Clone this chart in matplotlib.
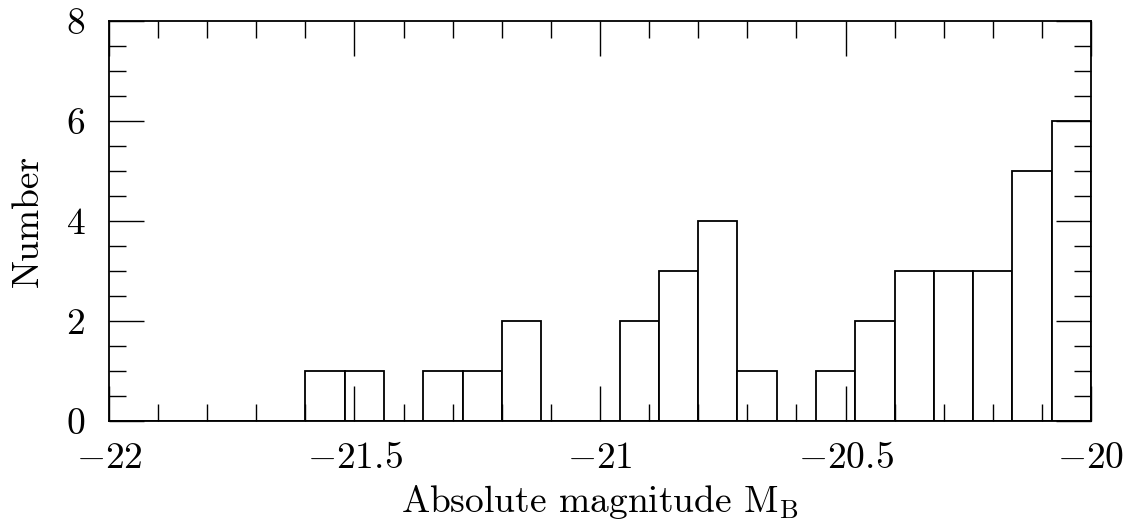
import numpy as np
import matplotlib
matplotlib.use('Agg')
import matplotlib.pyplot as plt
from matplotlib.ticker import MultipleLocator, FuncFormatter

# histogram of absolute magnitudes, bins of 0.08 mag from -22 to -20
bin_width = 0.08
bin_left = -22.0 + bin_width * np.arange(25)
counts = [0, 0, 0, 0, 0, 1, 1, 0, 1, 1, 2, 0, 0, 2, 3, 4, 1, 0, 1, 2, 3, 3, 3, 5, 6]

plt.rcParams['font.family'] = 'cmr10'
plt.rcParams['mathtext.fontset'] = 'cm'
plt.rcParams['axes.formatter.use_mathtext'] = True

fig = plt.figure(figsize=(11.34, 5.25), dpi=100)
ax = fig.add_axes([0.0961, 0.198, 0.866, 0.762])

ax.bar(bin_left, counts, width=bin_width, align='edge',
       facecolor='white', edgecolor='black', linewidth=1.3)

def fmt(v, pos):
    s = '%g' % v
    return s.replace('-', '$-$')

ax.set_xlim(-22, -20)
ax.set_ylim(0, 8)
ax.xaxis.set_major_locator(MultipleLocator(0.5))
ax.xaxis.set_minor_locator(MultipleLocator(0.1))
ax.yaxis.set_major_locator(MultipleLocator(2))
ax.yaxis.set_minor_locator(MultipleLocator(0.5))
ax.xaxis.set_major_formatter(FuncFormatter(fmt))
ax.yaxis.set_major_formatter(FuncFormatter(fmt))
ax.tick_params(which='both', direction='in', top=True, right=True, width=1.0)
ax.tick_params(which='major', length=25, labelsize=27)
ax.tick_params(axis='x', which='major', pad=15)
ax.tick_params(axis='y', which='major', pad=17)
ax.tick_params(which='minor', length=12)
for s in ax.spines.values():
    s.set_linewidth(1.3)

ax.set_xlabel(r'Absolute magnitude M$_{\rm B}$', fontsize=27, labelpad=6)
ax.set_ylabel('Number', fontsize=27, labelpad=16)

fig.savefig('out.png', dpi=100)
